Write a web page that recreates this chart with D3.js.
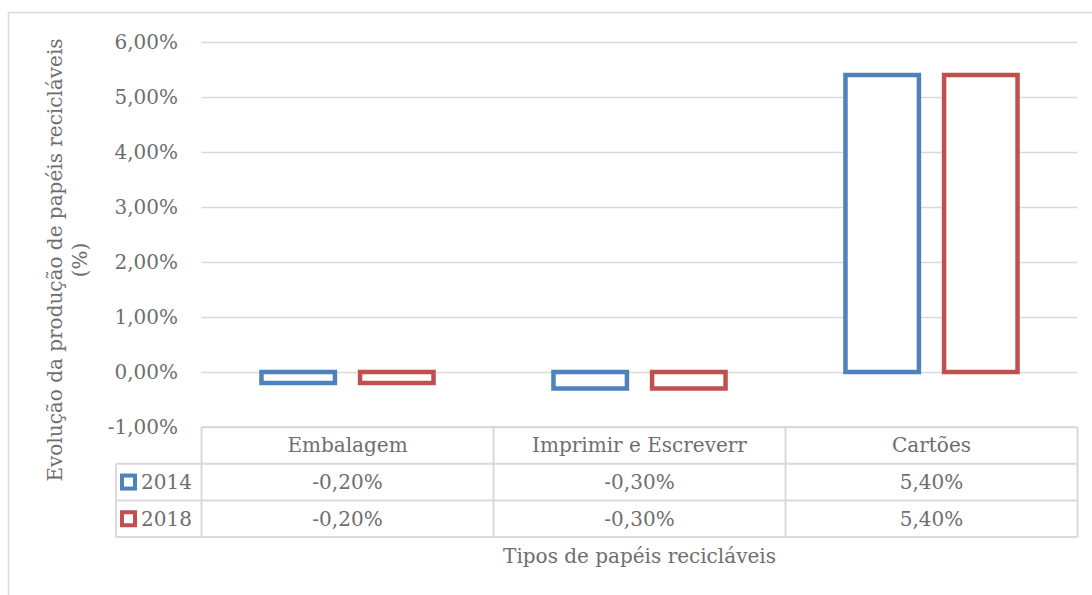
<!DOCTYPE html>
<html>
<head>
<meta charset="utf-8">
<script src="https://cdn.jsdelivr.net/npm/d3@7"></script>
<style>
  body { margin: 0; background: #fff; }
  svg text { font-family: "DejaVu Serif", serif; fill: #6e6e6e; }
</style>
</head>
<body>
<div id="chart"></div>
<script>
// data
var categories = ["Embalagem", "Imprimir e Escreverr", "Cartões"];
var seriesNames = ["2014", "2018"];
var values2014 = [-0.20, -0.30, 5.40];
var values2018 = [-0.20, -0.30, 5.40];
var yTicks = [-1, 0, 1, 2, 3, 4, 5, 6];

var seriesColor = { "2014": "#4f81bd", "2018": "#c0504d" };
var seriesValues = { "2014": values2014, "2018": values2018 };

var width = 1092, height = 595;
var fontSize = 20;

var svg = d3.select("#chart")
  .append("svg")
  .attr("width", width)
  .attr("height", height);

svg.append("rect")
  .attr("width", width)
  .attr("height", height)
  .attr("fill", "#fff");

// chart area border (runs off the right / bottom)
svg.append("rect")
  .attr("x", 8.5)
  .attr("y", 12.5)
  .attr("width", 1100)
  .attr("height", 600)
  .attr("fill", "none")
  .attr("stroke", "#d9d9d9")
  .attr("stroke-width", 1.5);

// scales
var x0 = d3.scaleBand()
  .domain(categories)
  .range([201.5, 1077.5]);

var x1 = d3.scaleBand()
  .domain(seriesNames)
  .range([0, x0.bandwidth()])
  .paddingInner(0.255)
  .paddingOuter(0.608);

var y = d3.scaleLinear()
  .domain([-1, 6])
  .range([427, 42]);

function fmt(v) {
  return d3.format(".2f")(v).replace(".", ",").replace("−", "-") + "%";
}

// gridlines
svg.selectAll("line.grid")
  .data(yTicks)
  .enter().append("line")
    .attr("class", "grid")
    .attr("x1", x0.range()[0])
    .attr("x2", x0.range()[1])
    .attr("y1", function(d) { return Math.round(y(d)) + 0.5; })
    .attr("y2", function(d) { return Math.round(y(d)) + 0.5; })
    .attr("stroke", "#d9d9d9")
    .attr("stroke-width", 1.5);

// y tick labels
svg.selectAll("text.ytick")
  .data(yTicks)
  .enter().append("text")
    .attr("class", "ytick")
    .attr("x", 178)
    .attr("y", function(d) { return y(d); })
    .attr("dy", "0.35em")
    .attr("text-anchor", "end")
    .style("font-size", fontSize + "px")
    .text(fmt);

// bars
var groups = svg.selectAll("g.cat")
  .data(categories)
  .enter().append("g")
    .attr("class", "cat")
    .attr("transform", function(d) { return "translate(" + x0(d) + ",0)"; });

groups.selectAll("rect.bar")
  .data(function(d, i) {
    return seriesNames.map(function(s) { return { s: s, v: seriesValues[s][i] }; });
  })
  .enter().append("rect")
    .attr("class", "bar")
    .attr("x", function(d) { return x1(d.s); })
    .attr("width", x1.bandwidth())
    .attr("y", function(d) { return y(Math.max(0, d.v)); })
    .attr("height", function(d) { return Math.abs(y(d.v) - y(0)); })
    .attr("fill", "#fff")
    .attr("stroke", function(d) { return seriesColor[d.s]; })
    .attr("stroke-width", 4.5);

// data table
var tTop = 427, rowH = 36.7, labelLeft = 116;
var tLeft = x0.range()[0], tRight = x0.range()[1];
var tableLines = svg.append("g")
  .attr("stroke", "#d9d9d9")
  .attr("stroke-width", 2);

// horizontal lines
tableLines.append("line")
  .attr("x1", tLeft).attr("x2", tRight)
  .attr("y1", tTop).attr("y2", tTop);
[1, 2, 3].forEach(function(r) {
  tableLines.append("line")
    .attr("x1", labelLeft).attr("x2", tRight)
    .attr("y1", tTop + r * rowH).attr("y2", tTop + r * rowH);
});
// vertical lines
categories.forEach(function(c) {
  tableLines.append("line")
    .attr("x1", x0(c)).attr("x2", x0(c))
    .attr("y1", tTop).attr("y2", tTop + 3 * rowH);
});
tableLines.append("line")
  .attr("x1", tRight).attr("x2", tRight)
  .attr("y1", tTop).attr("y2", tTop + 3 * rowH);
tableLines.append("line")
  .attr("x1", labelLeft).attr("x2", labelLeft)
  .attr("y1", tTop + rowH).attr("y2", tTop + 3 * rowH);

// header row
svg.selectAll("text.cat-label")
  .data(categories)
  .enter().append("text")
    .attr("class", "cat-label")
    .attr("x", function(d) { return x0(d) + x0.bandwidth() / 2; })
    .attr("y", tTop + rowH / 2)
    .attr("dy", "0.35em")
    .attr("text-anchor", "middle")
    .style("font-size", fontSize + "px")
    .text(function(d) { return d; });

// series rows
seriesNames.forEach(function(s, r) {
  var cy = tTop + (r + 1.5) * rowH;
  svg.append("rect")
    .attr("x", 122)
    .attr("y", cy - 6.5)
    .attr("width", 13)
    .attr("height", 13)
    .attr("fill", "#fff")
    .attr("stroke", seriesColor[s])
    .attr("stroke-width", 4);
  svg.append("text")
    .attr("x", 141)
    .attr("y", cy)
    .attr("dy", "0.35em")
    .style("font-size", fontSize + "px")
    .text(s);
  svg.selectAll("text.val" + s)
    .data(seriesValues[s])
    .enter().append("text")
      .attr("class", "val" + s)
      .attr("x", function(d, i) { return x0(categories[i]) + x0.bandwidth() / 2; })
      .attr("y", cy)
      .attr("dy", "0.35em")
      .attr("text-anchor", "middle")
      .style("font-size", fontSize + "px")
      .text(fmt);
});

// axis titles
svg.append("text")
  .attr("x", (tLeft + tRight) / 2)
  .attr("y", 556)
  .attr("dy", "0.35em")
  .attr("text-anchor", "middle")
  .style("font-size", fontSize + "px")
  .text("Tipos de papéis recicláveis");

var yTitle = svg.append("text")
  .attr("transform", "translate(62,260) rotate(-90)")
  .attr("text-anchor", "middle")
  .style("font-size", fontSize + "px");
yTitle.append("tspan")
  .attr("x", 0).attr("y", 0)
  .text("Evolução da produção de papéis recicláveis");
yTitle.append("tspan")
  .attr("x", 0).attr("y", 25)
  .text("(%)");
</script>
</body>
</html>
